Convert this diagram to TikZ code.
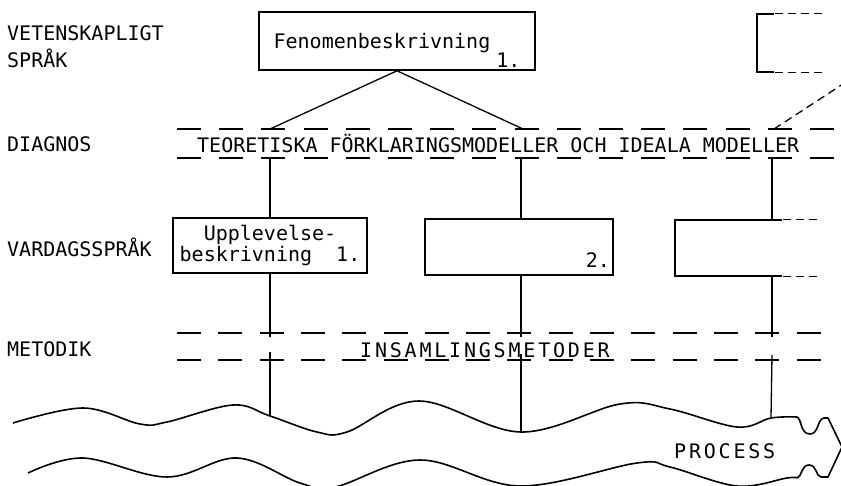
\documentclass[tikz,border=0pt]{standalone}
\usepackage{fontspec}
\newfontfamily\typefont{DejaVu Sans Mono}
\usetikzlibrary{calc}
\tikzset{
    typed/.style={font={\typefont\fontsize{20}{27}\selectfont},inner sep=0pt},
    spaced/.style={typed,font={\typefont\fontsize{20}{27}\selectfont\addfontfeature{LetterSpace=14}}},
    rowlabel/.style={typed,anchor=base west},
    frame/.style={draw,line width=1.6pt},
    link/.style={line width=1.3pt},
    shortdash/.style={dash pattern=on 8pt off 5pt},
    rowdash/.style={line width=1.9pt,dash pattern=on 24pt off #1},
    rowdash/.default=18.2pt,
    wave/.style={line width=1.6pt,line join=round}
}

\begin{document}
\begin{tikzpicture}[x=1pt,y=-1pt]
    \clip (0,0) rectangle (841,486);
    % Row labels
    \node[typed,anchor=north west,align=left] (vet) at (7,25) {VETENSKAPLIGT\\SPRÅK};
    \node[rowlabel] (diag) at (7,152) {DIAGNOS};
    \node[rowlabel] (vard) at (7,257) {VARDAGSSPRÅK};
    \node[rowlabel] (met) at (7,357) {METODIK};
    % Scientific language
    \node[frame,typed,minimum width=276pt,minimum height=58pt,text height=37pt,text depth=21pt] (fen) at (397,41) {Fenomenbeskrivning\kern6pt\raisebox{-19pt}{1.}};
    \node[minimum width=68pt,minimum height=58pt,inner sep=0pt] (fenr) at (791,43) {};
    \draw[frame] ($(fenr.north west)+(17,0)$) -- (fenr.north west) -- (fenr.south west) -- ++(17,0);
    \draw[link,shortdash] ($(fenr.north west)+(18,0)$) -- (fenr.north east);
    \draw[link,shortdash] ($(fenr.south west)+(18,0)$) -- (fenr.south east);
    % Diagnosis
    \draw[rowdash] (177,129) -- (834,129);
    \node[typed,anchor=base west] (teori) at (197,153) {TEORETISKA FÖRKLARINGSMODELLER OCH IDEALA MODELLER};
    \draw[rowdash] (177,158) -- (834,158);
    \coordinate (t1) at (270,129);
    \coordinate (t2) at (523,129);
    \coordinate (t3) at (771,131);
    \coordinate (off) at (846,82);
    \coordinate (b1) at (270,158);
    \coordinate (b2) at (521,158);
    \coordinate (b3) at (772,158);
    \draw[link] (fen.south) -- (t1);
    \draw[link] (fen.south) -- (t2);
    \draw[link,shortdash] (off) -- (t3);
    % Everyday language
    \node[frame,typed,font={\typefont\fontsize{20}{17}\selectfont},align=center,minimum width=194pt,minimum height=55pt] (upp) at (270,245.5) {Upplevelse-\\beskrivning\ \ 1.};
    \node[frame,typed,minimum width=188pt,minimum height=56pt,text width=182pt,align=right,text height=49pt,text depth=7pt] (sec) at (519,247) {2.};
    \node[minimum width=145pt,minimum height=56pt,inner sep=0pt] (third) at (747.5,248) {};
    \draw[frame] ($(third.north west)+(107,0)$) -- (third.north west) -- (third.south west) -- ++(107,0);
    \draw[link,shortdash] ($(third.north west)+(108,0)$) -- (third.north east);
    \draw[link,shortdash] ($(third.south west)+(108,0)$) -- (third.south east);
    \draw[link] (b1) -- (upp.north);
    \draw[link] (b2) -- (b2 |- sec.north);
    \draw[link] (b3) -- (b3 |- third.north);
    % Methods
    \draw[rowdash=17.3pt] (177,333) -- (821,333);
    \draw[rowdash=17.3pt] (177,360) -- (821,360);
    \node[spaced,anchor=base west] (insam) at (360,358) {INSAMLINGSMETODER};
    \coordinate (m1t) at (270,337);
    \coordinate (m1b) at (270,352);
    \coordinate (m2t) at (521,337);
    \coordinate (m2b) at (521,354);
    \coordinate (m3t) at (772,337);
    \coordinate (m3b) at (772,355);
    % Process
    \coordinate (w1) at (270,416);
    \coordinate (w2) at (521,432);
    \coordinate (w3) at (771,418);
    \draw[wave] plot[smooth,tension=0.6] coordinates {(13,423) (83,408) (140,424) (167,422) (233,405) (w1) (317,432) (347,432) (419,401) (w2) (620,404) (670,409) (737,427) (w3) (797,417)}
        .. controls (802,419) and (800,434) .. (810,434)
        .. controls (819,434) and (817,419) .. (824,418) -- (828,418) -- (842,447);
    \draw[wave] plot[smooth,tension=0.6] coordinates {(28,473) (83,458) (167,477) (237,458) (300,483) (335,487) (420,460) (520,486) (637,463) (670,467) (737,486) (787,478) (797,478)}
        .. controls (802,477) and (801,465) .. (809,465)
        .. controls (817,465) and (816,477) .. (821,477) -- (828,477) -- (842,447);
    \node[spaced,anchor=base west] (proc) at (674,458) {PROCESS};
    \draw[link] (upp.south) -- (m1t);
    \draw[link] (m1b) -- (w1);
    \draw[link] (sec.south -| b2) -- (m2t);
    \draw[link] (m2b) -- (w2);
    \draw[link] (third.south -| b3) -- (m3t);
    \draw[link] (m3b) -- (w3);
\end{tikzpicture}
\end{document}
